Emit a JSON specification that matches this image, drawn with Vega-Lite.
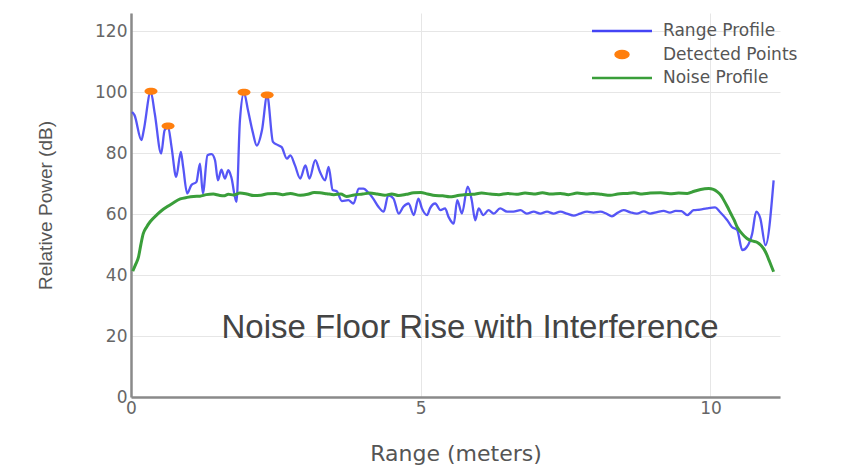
{
  "$schema": "https://vega.github.io/schema/vega-lite/v6.json",
  "width": 649,
  "height": 384,
  "autosize": "none",
  "padding": {"left": 131, "top": 13, "right": 88, "bottom": 72},
  "background": "white",
  "config": {"view": {"stroke": null}},
  "datasets": {
    "profile": [
      {"range": 0.02, "power": 93.5, "series": "Range Profile"},
      {"range": 0.06, "power": 92.5, "series": "Range Profile"},
      {"range": 0.18, "power": 84.3, "series": "Range Profile"},
      {"range": 0.22, "power": 87.5, "series": "Range Profile"},
      {"range": 0.34, "power": 100.2, "series": "Range Profile"},
      {"range": 0.41, "power": 93, "series": "Range Profile"},
      {"range": 0.52, "power": 79.9, "series": "Range Profile"},
      {"range": 0.58, "power": 87.5, "series": "Range Profile"},
      {"range": 0.64, "power": 88.6, "series": "Range Profile"},
      {"range": 0.70, "power": 82, "series": "Range Profile"},
      {"range": 0.78, "power": 72.2, "series": "Range Profile"},
      {"range": 0.86, "power": 80.4, "series": "Range Profile"},
      {"range": 0.90, "power": 75.5, "series": "Range Profile"},
      {"range": 0.97, "power": 66.8, "series": "Range Profile"},
      {"range": 1.04, "power": 69.5, "series": "Range Profile"},
      {"range": 1.13, "power": 70.6, "series": "Range Profile"},
      {"range": 1.19, "power": 76.6, "series": "Range Profile"},
      {"range": 1.24, "power": 66.8, "series": "Range Profile"},
      {"range": 1.32, "power": 79.3, "series": "Range Profile"},
      {"range": 1.39, "power": 79.7, "series": "Range Profile"},
      {"range": 1.45, "power": 77.7, "series": "Range Profile"},
      {"range": 1.50, "power": 71.1, "series": "Range Profile"},
      {"range": 1.56, "power": 74.6, "series": "Range Profile"},
      {"range": 1.62, "power": 71.7, "series": "Range Profile"},
      {"range": 1.68, "power": 74.4, "series": "Range Profile"},
      {"range": 1.73, "power": 72.2, "series": "Range Profile"},
      {"range": 1.82, "power": 64, "series": "Range Profile"},
      {"range": 1.88, "power": 90.8, "series": "Range Profile"},
      {"range": 1.95, "power": 99.8, "series": "Range Profile"},
      {"range": 2.02, "power": 94, "series": "Range Profile"},
      {"range": 2.10, "power": 87, "series": "Range Profile"},
      {"range": 2.17, "power": 82.5, "series": "Range Profile"},
      {"range": 2.26, "power": 87.5, "series": "Range Profile"},
      {"range": 2.35, "power": 99, "series": "Range Profile"},
      {"range": 2.45, "power": 83.7, "series": "Range Profile"},
      {"range": 2.54, "power": 82.6, "series": "Range Profile"},
      {"range": 2.60, "power": 82, "series": "Range Profile"},
      {"range": 2.69, "power": 78.2, "series": "Range Profile"},
      {"range": 2.75, "power": 79.3, "series": "Range Profile"},
      {"range": 2.83, "power": 76, "series": "Range Profile"},
      {"range": 2.92, "power": 71.7, "series": "Range Profile"},
      {"range": 3.01, "power": 76, "series": "Range Profile"},
      {"range": 3.08, "power": 71.7, "series": "Range Profile"},
      {"range": 3.18, "power": 77.7, "series": "Range Profile"},
      {"range": 3.26, "power": 73.9, "series": "Range Profile"},
      {"range": 3.35, "power": 71.1, "series": "Range Profile"},
      {"range": 3.41, "power": 75.5, "series": "Range Profile"},
      {"range": 3.48, "power": 67.9, "series": "Range Profile"},
      {"range": 3.55, "power": 67.5, "series": "Range Profile"},
      {"range": 3.64, "power": 64.3, "series": "Range Profile"},
      {"range": 3.75, "power": 64.6, "series": "Range Profile"},
      {"range": 3.84, "power": 63.5, "series": "Range Profile"},
      {"range": 3.93, "power": 68.4, "series": "Range Profile"},
      {"range": 4.01, "power": 68.4, "series": "Range Profile"},
      {"range": 4.10, "power": 67, "series": "Range Profile"},
      {"range": 4.18, "power": 65.1, "series": "Range Profile"},
      {"range": 4.27, "power": 62.4, "series": "Range Profile"},
      {"range": 4.36, "power": 60.8, "series": "Range Profile"},
      {"range": 4.44, "power": 66.2, "series": "Range Profile"},
      {"range": 4.53, "power": 65.1, "series": "Range Profile"},
      {"range": 4.62, "power": 60.2, "series": "Range Profile"},
      {"range": 4.70, "power": 62.4, "series": "Range Profile"},
      {"range": 4.79, "power": 63.5, "series": "Range Profile"},
      {"range": 4.88, "power": 59.7, "series": "Range Profile"},
      {"range": 4.96, "power": 65.1, "series": "Range Profile"},
      {"range": 5.02, "power": 61.9, "series": "Range Profile"},
      {"range": 5.11, "power": 59.7, "series": "Range Profile"},
      {"range": 5.16, "power": 61.9, "series": "Range Profile"},
      {"range": 5.25, "power": 63.5, "series": "Range Profile"},
      {"range": 5.34, "power": 61.3, "series": "Range Profile"},
      {"range": 5.42, "power": 61.9, "series": "Range Profile"},
      {"range": 5.48, "power": 59.1, "series": "Range Profile"},
      {"range": 5.57, "power": 56.9, "series": "Range Profile"},
      {"range": 5.63, "power": 64.6, "series": "Range Profile"},
      {"range": 5.71, "power": 60.2, "series": "Range Profile"},
      {"range": 5.81, "power": 69, "series": "Range Profile"},
      {"range": 5.88, "power": 64.6, "series": "Range Profile"},
      {"range": 5.94, "power": 58, "series": "Range Profile"},
      {"range": 6.00, "power": 61.9, "series": "Range Profile"},
      {"range": 6.08, "power": 59.7, "series": "Range Profile"},
      {"range": 6.17, "power": 61.3, "series": "Range Profile"},
      {"range": 6.26, "power": 60.2, "series": "Range Profile"},
      {"range": 6.37, "power": 61.9, "series": "Range Profile"},
      {"range": 6.49, "power": 60.8, "series": "Range Profile"},
      {"range": 6.60, "power": 60.8, "series": "Range Profile"},
      {"range": 6.72, "power": 61.3, "series": "Range Profile"},
      {"range": 6.83, "power": 60.2, "series": "Range Profile"},
      {"range": 6.95, "power": 60.8, "series": "Range Profile"},
      {"range": 7.06, "power": 60.2, "series": "Range Profile"},
      {"range": 7.18, "power": 60.8, "series": "Range Profile"},
      {"range": 7.29, "power": 60.2, "series": "Range Profile"},
      {"range": 7.41, "power": 60.8, "series": "Range Profile"},
      {"range": 7.52, "power": 60.2, "series": "Range Profile"},
      {"range": 7.64, "power": 59.5, "series": "Range Profile"},
      {"range": 7.75, "power": 60.2, "series": "Range Profile"},
      {"range": 7.87, "power": 60.8, "series": "Range Profile"},
      {"range": 7.98, "power": 60.5, "series": "Range Profile"},
      {"range": 8.10, "power": 60.8, "series": "Range Profile"},
      {"range": 8.20, "power": 60.2, "series": "Range Profile"},
      {"range": 8.30, "power": 59.3, "series": "Range Profile"},
      {"range": 8.40, "power": 60.5, "series": "Range Profile"},
      {"range": 8.50, "power": 61.3, "series": "Range Profile"},
      {"range": 8.62, "power": 60.6, "series": "Range Profile"},
      {"range": 8.73, "power": 60.2, "series": "Range Profile"},
      {"range": 8.85, "power": 60.9, "series": "Range Profile"},
      {"range": 8.96, "power": 60.2, "series": "Range Profile"},
      {"range": 9.08, "power": 60.7, "series": "Range Profile"},
      {"range": 9.19, "power": 61.1, "series": "Range Profile"},
      {"range": 9.30, "power": 60.5, "series": "Range Profile"},
      {"range": 9.40, "power": 61.1, "series": "Range Profile"},
      {"range": 9.50, "power": 61.0, "series": "Range Profile"},
      {"range": 9.60, "power": 59.7, "series": "Range Profile"},
      {"range": 9.71, "power": 61.3, "series": "Range Profile"},
      {"range": 9.82, "power": 61.5, "series": "Range Profile"},
      {"range": 9.94, "power": 61.9, "series": "Range Profile"},
      {"range": 10.08, "power": 62.2, "series": "Range Profile"},
      {"range": 10.16, "power": 60.8, "series": "Range Profile"},
      {"range": 10.29, "power": 58, "series": "Range Profile"},
      {"range": 10.37, "power": 55.8, "series": "Range Profile"},
      {"range": 10.46, "power": 54.8, "series": "Range Profile"},
      {"range": 10.55, "power": 48.2, "series": "Range Profile"},
      {"range": 10.63, "power": 49.3, "series": "Range Profile"},
      {"range": 10.72, "power": 53.6, "series": "Range Profile"},
      {"range": 10.79, "power": 60.8, "series": "Range Profile"},
      {"range": 10.86, "power": 58.6, "series": "Range Profile"},
      {"range": 10.95, "power": 49.8, "series": "Range Profile"},
      {"range": 11.09, "power": 71.1, "series": "Range Profile"}
    ],
    "detected": [
      {"range": 0.345, "power": 100.3, "series": "Detected Points"},
      {"range": 0.64, "power": 88.9, "series": "Detected Points"},
      {"range": 1.95, "power": 100.0, "series": "Detected Points"},
      {"range": 2.35, "power": 99.1, "series": "Detected Points"}
    ],
    "noise": [
      {"range": 0.03, "power": 41.3, "series": "Noise Profile"},
      {"range": 0.08, "power": 43.5, "series": "Noise Profile"},
      {"range": 0.13, "power": 46, "series": "Noise Profile"},
      {"range": 0.17, "power": 50, "series": "Noise Profile"},
      {"range": 0.21, "power": 53.5, "series": "Noise Profile"},
      {"range": 0.27, "power": 55.8, "series": "Noise Profile"},
      {"range": 0.33, "power": 57.5, "series": "Noise Profile"},
      {"range": 0.44, "power": 59.7, "series": "Noise Profile"},
      {"range": 0.53, "power": 61.2, "series": "Noise Profile"},
      {"range": 0.62, "power": 62.4, "series": "Noise Profile"},
      {"range": 0.72, "power": 63.6, "series": "Noise Profile"},
      {"range": 0.85, "power": 65, "series": "Noise Profile"},
      {"range": 0.97, "power": 65.5, "series": "Noise Profile"},
      {"range": 1.08, "power": 65.8, "series": "Noise Profile"},
      {"range": 1.19, "power": 65.9, "series": "Noise Profile"},
      {"range": 1.30, "power": 66.4, "series": "Noise Profile"},
      {"range": 1.42, "power": 66.6, "series": "Noise Profile"},
      {"range": 1.52, "power": 66.2, "series": "Noise Profile"},
      {"range": 1.60, "power": 66.0, "series": "Noise Profile"},
      {"range": 1.68, "power": 66.5, "series": "Noise Profile"},
      {"range": 1.77, "power": 66.3, "series": "Noise Profile"},
      {"range": 1.88, "power": 66.9, "series": "Noise Profile"},
      {"range": 2.00, "power": 66.6, "series": "Noise Profile"},
      {"range": 2.12, "power": 66.1, "series": "Noise Profile"},
      {"range": 2.24, "power": 66.2, "series": "Noise Profile"},
      {"range": 2.36, "power": 66.7, "series": "Noise Profile"},
      {"range": 2.50, "power": 66.8, "series": "Noise Profile"},
      {"range": 2.62, "power": 66.4, "series": "Noise Profile"},
      {"range": 2.75, "power": 66.8, "series": "Noise Profile"},
      {"range": 2.92, "power": 66.2, "series": "Noise Profile"},
      {"range": 3.05, "power": 66.5, "series": "Noise Profile"},
      {"range": 3.16, "power": 67.1, "series": "Noise Profile"},
      {"range": 3.26, "power": 67.0, "series": "Noise Profile"},
      {"range": 3.38, "power": 66.7, "series": "Noise Profile"},
      {"range": 3.50, "power": 66.4, "series": "Noise Profile"},
      {"range": 3.62, "power": 66.6, "series": "Noise Profile"},
      {"range": 3.72, "power": 65.8, "series": "Noise Profile"},
      {"range": 3.85, "power": 66.3, "series": "Noise Profile"},
      {"range": 4.00, "power": 66.6, "series": "Noise Profile"},
      {"range": 4.12, "power": 66.9, "series": "Noise Profile"},
      {"range": 4.25, "power": 66.6, "series": "Noise Profile"},
      {"range": 4.38, "power": 66.2, "series": "Noise Profile"},
      {"range": 4.50, "power": 66.6, "series": "Noise Profile"},
      {"range": 4.62, "power": 66.1, "series": "Noise Profile"},
      {"range": 4.75, "power": 66.5, "series": "Noise Profile"},
      {"range": 4.88, "power": 67.0, "series": "Noise Profile"},
      {"range": 5.00, "power": 67.1, "series": "Noise Profile"},
      {"range": 5.12, "power": 66.6, "series": "Noise Profile"},
      {"range": 5.25, "power": 66.1, "series": "Noise Profile"},
      {"range": 5.38, "power": 66.0, "series": "Noise Profile"},
      {"range": 5.50, "power": 65.7, "series": "Noise Profile"},
      {"range": 5.62, "power": 66.0, "series": "Noise Profile"},
      {"range": 5.75, "power": 66.4, "series": "Noise Profile"},
      {"range": 5.90, "power": 66.5, "series": "Noise Profile"},
      {"range": 6.05, "power": 66.9, "series": "Noise Profile"},
      {"range": 6.20, "power": 66.6, "series": "Noise Profile"},
      {"range": 6.35, "power": 66.4, "series": "Noise Profile"},
      {"range": 6.50, "power": 66.8, "series": "Noise Profile"},
      {"range": 6.65, "power": 66.5, "series": "Noise Profile"},
      {"range": 6.80, "power": 66.9, "series": "Noise Profile"},
      {"range": 6.95, "power": 66.6, "series": "Noise Profile"},
      {"range": 7.10, "power": 67.0, "series": "Noise Profile"},
      {"range": 7.25, "power": 66.6, "series": "Noise Profile"},
      {"range": 7.41, "power": 66.8, "series": "Noise Profile"},
      {"range": 7.55, "power": 66.4, "series": "Noise Profile"},
      {"range": 7.70, "power": 66.9, "series": "Noise Profile"},
      {"range": 7.85, "power": 66.6, "series": "Noise Profile"},
      {"range": 7.98, "power": 66.8, "series": "Noise Profile"},
      {"range": 8.12, "power": 66.5, "series": "Noise Profile"},
      {"range": 8.27, "power": 66.2, "series": "Noise Profile"},
      {"range": 8.40, "power": 66.6, "series": "Noise Profile"},
      {"range": 8.55, "power": 66.8, "series": "Noise Profile"},
      {"range": 8.68, "power": 67.0, "series": "Noise Profile"},
      {"range": 8.82, "power": 66.6, "series": "Noise Profile"},
      {"range": 8.96, "power": 66.9, "series": "Noise Profile"},
      {"range": 9.14, "power": 67.0, "series": "Noise Profile"},
      {"range": 9.30, "power": 66.7, "series": "Noise Profile"},
      {"range": 9.45, "power": 66.9, "series": "Noise Profile"},
      {"range": 9.60, "power": 66.8, "series": "Noise Profile"},
      {"range": 9.72, "power": 67.5, "series": "Noise Profile"},
      {"range": 9.83, "power": 68.1, "series": "Noise Profile"},
      {"range": 9.97, "power": 68.4, "series": "Noise Profile"},
      {"range": 10.05, "power": 68.1, "series": "Noise Profile"},
      {"range": 10.12, "power": 67.3, "series": "Noise Profile"},
      {"range": 10.18, "power": 66.2, "series": "Noise Profile"},
      {"range": 10.23, "power": 64.6, "series": "Noise Profile"},
      {"range": 10.29, "power": 62.5, "series": "Noise Profile"},
      {"range": 10.35, "power": 60.2, "series": "Noise Profile"},
      {"range": 10.41, "power": 58.0, "series": "Noise Profile"},
      {"range": 10.46, "power": 55.8, "series": "Noise Profile"},
      {"range": 10.54, "power": 53.7, "series": "Noise Profile"},
      {"range": 10.63, "power": 52.0, "series": "Noise Profile"},
      {"range": 10.72, "power": 51.2, "series": "Noise Profile"},
      {"range": 10.81, "power": 50.7, "series": "Noise Profile"},
      {"range": 10.87, "power": 49.8, "series": "Noise Profile"},
      {"range": 10.92, "power": 48.6, "series": "Noise Profile"},
      {"range": 10.97, "power": 46.8, "series": "Noise Profile"},
      {"range": 11.01, "power": 44.9, "series": "Noise Profile"},
      {"range": 11.05, "power": 43.0, "series": "Noise Profile"},
      {"range": 11.09, "power": 41.1, "series": "Noise Profile"}
    ],
    "annotation": [
      {"range": 5.85, "power": 19.4, "label": "Noise Floor Rise with Interference"}
    ]
  },
  "encoding": {
    "x": {
      "field": "range",
      "type": "quantitative",
      "scale": {"domain": [0, 11.2], "nice": false, "zero": false},
      "axis": {
        "title": "Range (meters)",
        "values": [0, 5, 10],
        "grid": true,
        "gridColor": "#e6e6e6",
        "ticks": false,
        "domainColor": "#8a8a8a",
        "domainWidth": 2.5,
        "labelFont": "DejaVu Sans",
        "labelFontSize": 17,
        "labelColor": "#666",
        "labelPadding": 3,
        "labelFlush": false,
        "titleFont": "DejaVu Sans",
        "titleFontSize": 22,
        "titleFontWeight": "normal",
        "titleColor": "#555",
        "titleBaseline": "middle",
        "titleY": 56
      }
    },
    "y": {
      "field": "power",
      "type": "quantitative",
      "scale": {"domain": [0, 126], "nice": false},
      "axis": {
        "title": "Relative Power (dB)",
        "values": [0, 20, 40, 60, 80, 100, 120],
        "grid": true,
        "gridColor": "#e6e6e6",
        "ticks": false,
        "domainColor": "#8a8a8a",
        "domainWidth": 2.5,
        "labelFont": "DejaVu Sans",
        "labelFontSize": 17,
        "labelColor": "#666",
        "labelPadding": 4,
        "labelFlush": false,
        "titleFont": "Liberation Sans",
        "titleFontSize": 19,
        "titleFontWeight": "normal",
        "titleColor": "#555",
        "titleX": -86,
        "titleY": 192,
        "titleAlign": "center",
        "titleBaseline": "middle"
      }
    },
    "color": {
      "field": "series",
      "type": "nominal",
      "scale": {
        "domain": ["Range Profile", "Detected Points", "Noise Profile"],
        "range": ["#4444f5", "#ff7f0e", "#3a9e3a"]
      },
      "legend": {
        "orient": "none",
        "legendX": 482.5,
        "legendY": 9.5,
        "title": null,
        "padding": 0,
        "symbolType": "M-6,0 L6,0",
        "symbolSize": 100,
        "symbolStrokeWidth": 2.5,
        "labelFont": "DejaVu Sans",
        "labelFontSize": 17,
        "labelColor": "#555",
        "labelOffset": 32.5,
        "rowPadding": 5.5,
        "encode": {
          "symbols": {
            "update": {
              "shape": [
                {"test": "datum.value === 'Detected Points'", "value": "M-1.3,0 A1.3,0.7 0 1,0 1.3,0 A1.3,0.7 0 1,0 -1.3,0 Z"},
                {"value": "M-6,0 L6,0"}
              ],
              "fill": [
                {"test": "datum.value === 'Detected Points'", "value": "#ff7f0e"},
                {"value": "transparent"}
              ],
              "stroke": [
                {"test": "datum.value === 'Detected Points'", "value": "transparent"},
                {"scale": "color", "field": "value"}
              ],
              "opacity": {"value": 1},
              "fillOpacity": {"value": 1},
              "strokeOpacity": {"value": 1}
            }
          }
        }
      }
    }
  },
  "layer": [
    {
      "data": {"name": "profile"},
      "mark": {"type": "line", "strokeWidth": 2.3, "opacity": 0.9, "interpolate": "monotone"}
    },
    {
      "data": {"name": "detected"},
      "mark": {
        "type": "point",
        "filled": true,
        "opacity": 1,
        "size": 100,
        "shape": "M-1.3,0 A1.3,0.7 0 1,0 1.3,0 A1.3,0.7 0 1,0 -1.3,0 Z"
      }
    },
    {
      "data": {"name": "noise"},
      "mark": {"type": "line", "strokeWidth": 3, "interpolate": "monotone"}
    },
    {
      "data": {"name": "annotation"},
      "mark": {
        "type": "text",
        "font": "Liberation Sans",
        "fontSize": 33,
        "align": "center",
        "baseline": "alphabetic"
      },
      "encoding": {
        "text": {"field": "label"},
        "color": {"value": "#444"}
      }
    }
  ]
}
